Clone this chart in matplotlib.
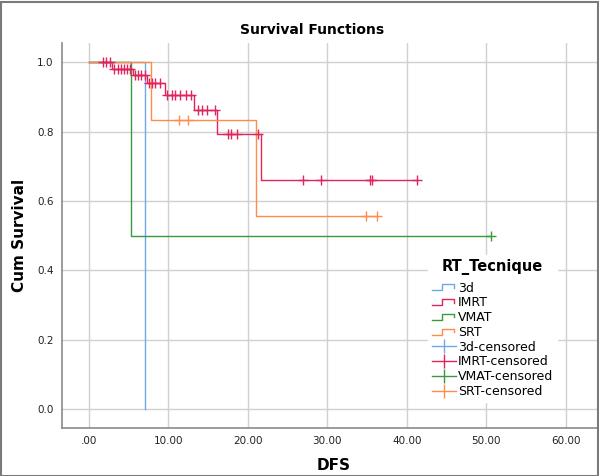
import matplotlib
matplotlib.use("Agg")
import matplotlib.pyplot as plt
import numpy as np
from matplotlib.lines import Line2D
from matplotlib.legend_handler import HandlerBase
from matplotlib.patches import Rectangle

# Kaplan-Meier steps: event times and survival after each event
groups = ["3d", "IMRT", "VMAT", "SRT"]
colors = {"3d": "#6fa8ea", "IMRT": "#e0245e", "VMAT": "#3a9a3a", "SRT": "#ff8c4a"}

d3_times = [7.0]
d3_surv = [0.0]
d3_end = 7.0
d3_cens = []

imrt_times = [2.85, 5.5, 7.25, 9.6, 13.2, 16.1, 21.7]
imrt_surv = [0.982, 0.965, 0.940, 0.906, 0.864, 0.793, 0.660]
imrt_end = 41.3
imrt_cens = [1.8, 2.2, 2.6, 3.2, 3.6, 4.0, 4.4, 4.8, 5.1, 5.8, 6.2, 6.6, 7.0,
             7.6, 7.9, 8.3, 8.9, 9.8, 10.4, 10.8, 11.4, 12.2, 12.9, 13.75, 14.2,
             14.8, 15.85, 17.5, 17.9, 18.6, 21.3, 27.0, 29.2, 35.4, 35.6, 41.3]

vmat_times = [5.3]
vmat_surv = [0.5]
vmat_end = 50.6
vmat_cens = [50.6]

srt_times = [7.75, 21.0]
srt_surv = [0.833, 0.556]
srt_end = 36.3
srt_cens = [11.3, 12.5, 34.9, 36.3]

data = {
    "3d": (d3_times, d3_surv, d3_end, d3_cens),
    "IMRT": (imrt_times, imrt_surv, imrt_end, imrt_cens),
    "VMAT": (vmat_times, vmat_surv, vmat_end, vmat_cens),
    "SRT": (srt_times, srt_surv, srt_end, srt_cens),
}

xticks = [0, 10, 20, 30, 40, 50, 60]
xticklabels = [".00", "10.00", "20.00", "30.00", "40.00", "50.00", "60.00"]
yticks = [0.0, 0.2, 0.4, 0.6, 0.8, 1.0]


def surv_at(times, surv, t):
    s = 1.0
    for ti, si in zip(times, surv):
        if t >= ti:
            s = si
    return s


class StepHandler(HandlerBase):
    def create_artists(self, legend, orig_handle, xdescent, ydescent,
                       width, height, fontsize, trans):
        x0, w = -xdescent, width
        y0, h = -ydescent, height
        xs = [x0, x0 + 0.45 * w, x0 + 0.45 * w, x0 + 0.92 * w, x0 + 0.92 * w]
        ys = [y0 + 0.15 * h, y0 + 0.15 * h, y0 + 0.85 * h, y0 + 0.85 * h, y0 + 0.45 * h]
        ln = Line2D(xs, ys, color=orig_handle.get_color(), lw=1.0, transform=trans)
        return [ln]


fig = plt.figure(figsize=(5.99, 4.76), dpi=100)
ax = fig.add_axes([62 / 599, 1 - 428 / 476, 1 - 62 / 599, (428 - 43) / 476])

step_handles = []
cens_handles = []
for g in groups:
    times, surv, end, cens = data[g]
    xs = [0.0]
    ys = [1.0]
    prev = 1.0
    for t, s in zip(times, surv):
        xs += [t, t]
        ys += [prev, s]
        prev = s
    if end > xs[-1]:
        xs.append(end)
        ys.append(prev)
    ln, = ax.plot(xs, ys, color=colors[g], lw=1.0, zorder=3)
    step_handles.append(ln)
    if cens:
        cy = [surv_at(times, surv, c) for c in cens]
        ax.plot(cens, cy, ls="none", marker="+", ms=7, mew=1.0,
                color=colors[g], zorder=4)
    cens_handles.append(Line2D([0], [0], color=colors[g], lw=1.0,
                               marker="|", ms=10, mew=1.0))

ax.set_xlim(-3.4, 64.2)
ax.set_ylim(-0.055, 1.056)
ax.set_xticks(xticks)
ax.set_xticklabels(xticklabels)
ax.set_yticks(yticks)
ax.set_yticklabels([f"{v:.1f}" for v in yticks])
ax.tick_params(length=0, labelsize=7.5, colors="#222222", pad=6)
ax.grid(True, color="#d0d0d0", lw=1.0, zorder=0)
for side in ["top", "right"]:
    ax.spines[side].set_visible(False)
for side in ["left", "bottom"]:
    ax.spines[side].set_color("#8a8a8a")
    ax.spines[side].set_linewidth(1.2)

fig.text(312 / 599, 1 - 30 / 476, "Survival Functions", ha="center", va="center",
         fontsize=10, fontweight="bold")
fig.text(20 / 599, 1 - 235 / 476, "Cum Survival", ha="center", va="center",
         rotation=90, fontsize=11, fontweight="bold")
fig.text(334 / 599, 1 - 465 / 476, "DFS", ha="center", va="center",
         fontsize=11, fontweight="bold")

labels = groups + [g + "-censored" for g in groups]
handler_map = {h: StepHandler() for h in step_handles}
leg = ax.legend(step_handles + cens_handles, labels, handler_map=handler_map,
                title="RT_Tecnique", loc="upper left",
                bbox_to_anchor=(428 / 599, 1 - 255 / 476),
                bbox_transform=fig.transFigure,
                frameon=True, fontsize=9, handlelength=1.9, handletextpad=0.2,
                labelspacing=0.14, borderpad=0.3, borderaxespad=0)
leg.get_title().set_fontweight("bold")
leg.get_title().set_fontsize(10.5)
leg.get_frame().set_edgecolor("white")
leg.get_frame().set_facecolor("white")
leg.get_frame().set_alpha(1.0)
leg.get_frame().set_boxstyle("square", pad=0)
leg._legend_box.sep = 5

fig.patches.append(Rectangle((0.002, 0.0), 0.996, 0.996, transform=fig.transFigure,
                             fill=False, edgecolor="#7a7a7a", lw=1.5))

fig.savefig("out.png", dpi=100)
